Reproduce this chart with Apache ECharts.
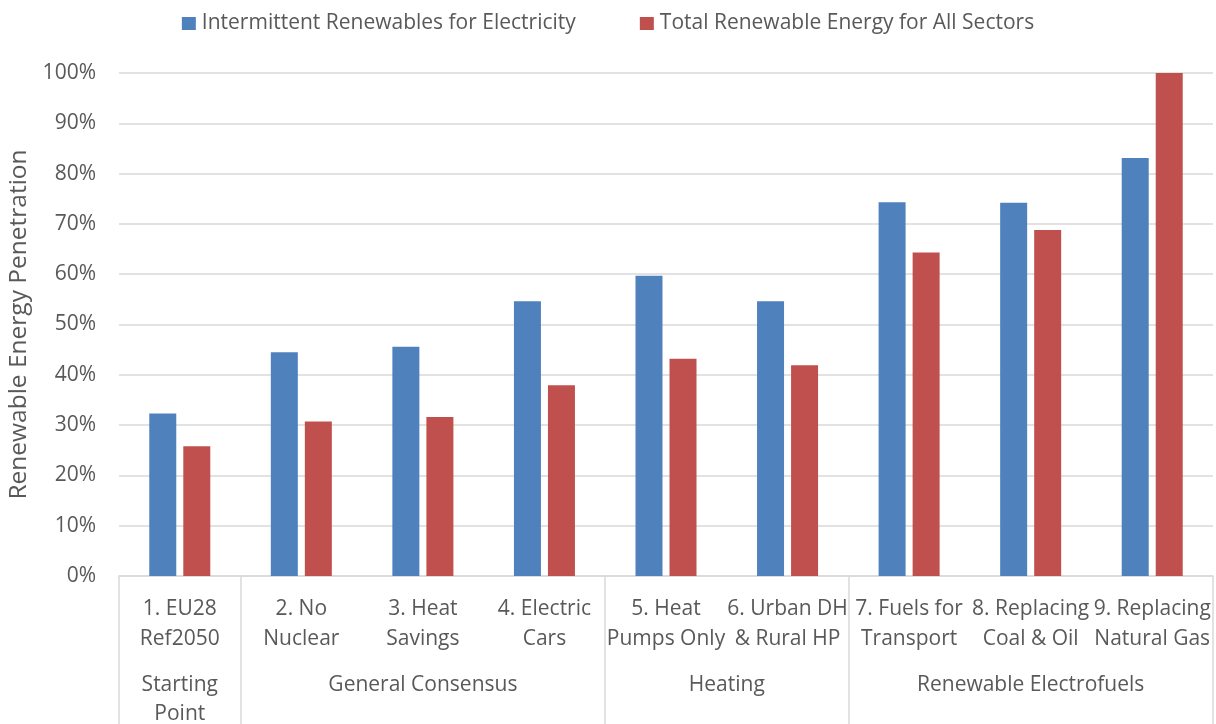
<!DOCTYPE html>
<html>
<head>
<meta charset="utf-8">
<script src="https://cdn.jsdelivr.net/npm/echarts@6/dist/echarts.min.js"></script>
<style>
  html, body { margin: 0; padding: 0; background: #fff; }
  #chart { width: 1216px; height: 724px; }
</style>
</head>
<body>
<div id="chart"></div>
<script>
// Scenario names (two lines each)
const categories = [
  '1. EU28\nRef2050', '2. No\nNuclear', '3. Heat\nSavings', '4. Electric\nCars',
  '5. Heat\nPumps Only', '6. Urban DH\n& Rural HP', '7. Fuels for\nTransport',
  '8. Replacing\nCoal & Oil', '9. Replacing\nNatural Gas'
];
// Renewable energy penetration, percent
const intermittentRenewables = [32.3, 44.5, 45.6, 54.6, 59.7, 54.6, 74.3, 74.2, 83.1];
const totalRenewables = [25.8, 30.7, 31.6, 37.9, 43.2, 41.9, 64.3, 68.8, 100];
// Scenario groups and how many scenarios each one spans
const groupNames = ['Starting\nPoint', 'General Consensus', 'Heating', 'Renewable Electrofuels'];
const groupSizes = [1, 3, 2, 3];
const seriesNames = ['Intermittent Renewables for Electricity', 'Total Renewable Energy for All Sectors'];

const FONT = 'Open Sans';
const TEXT = '#595959';
const RULE = '#D9D9D9';

// group boundaries and centres in category units
const bounds = [0];
groupSizes.forEach(s => bounds.push(bounds[bounds.length - 1] + s));
const centres = groupSizes.map((s, i) => bounds[i] + s / 2);

const chart = echarts.init(document.getElementById('chart'), null, { renderer: 'canvas' });
chart.setOption({
  animation: false,
  textStyle: { fontFamily: FONT, color: TEXT },
  legend: {
    top: 8, left: 'center',
    itemWidth: 14, itemHeight: 13, itemGap: 64,
    icon: 'rect',
    textStyle: { fontFamily: FONT, fontSize: 21, color: TEXT, padding: [0, 0, 0, 1] },
    data: seriesNames
  },
  grid: { left: 119, right: 3, top: 73, bottom: 148, containLabel: false, outerBoundsMode: 'none' },
  xAxis: [
    {
      type: 'category',
      data: categories,
      axisLine: { show: true, lineStyle: { color: RULE, width: 1.5 } },
      axisTick: { show: false },
      axisLabel: {
        interval: 0, margin: 18, fontSize: 21, lineHeight: 30,
        color: TEXT, fontFamily: FONT
      }
    },
    {
      type: 'value',
      min: 0, max: categories.length,
      position: 'bottom',
      axisLine: { show: false },
      splitLine: { show: false },
      axisTick: {
        show: true, length: 150, customValues: bounds,
        lineStyle: { color: RULE, width: 1.5 }
      },
      axisLabel: {
        customValues: centres, margin: 95, fontSize: 21, lineHeight: 29,
        color: TEXT, fontFamily: FONT,
        formatter: v => groupNames[centres.indexOf(v)] || ''
      }
    }
  ],
  yAxis: {
    type: 'value',
    min: 0, max: 100, interval: 10,
    name: 'Renewable Energy Penetration',
    nameLocation: 'middle', nameGap: 87, nameRotate: 90,
    nameTextStyle: { fontFamily: FONT, fontSize: 24.5, color: TEXT },
    axisLine: { show: false },
    axisTick: { show: false },
    axisLabel: { formatter: '{value}%', fontSize: 21, margin: 23, color: TEXT, fontFamily: FONT },
    splitLine: { lineStyle: { color: RULE, width: 1.5 } }
  },
  series: [
    {
      name: seriesNames[0], type: 'bar', xAxisIndex: 0,
      data: intermittentRenewables, barWidth: 27, barGap: '26%',
      itemStyle: { color: '#4F81BD' }
    },
    {
      name: seriesNames[1], type: 'bar', xAxisIndex: 0,
      data: totalRenewables, barWidth: 27, barGap: '26%',
      itemStyle: { color: '#C0504D' }
    }
  ]
});
</script>
</body>
</html>
